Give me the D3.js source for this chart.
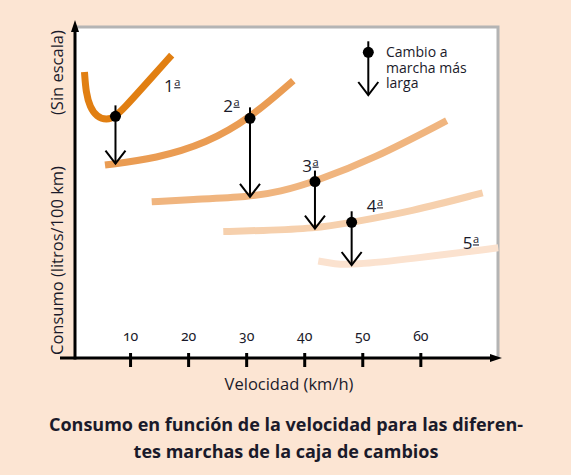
<!DOCTYPE html>
<html>
<head>
<meta charset="utf-8">
<script src="https://cdn.jsdelivr.net/npm/d3@7"></script>
<style>
    body { margin: 0; background: #fce5d3; }
    svg { display: block; }
    text { font-family: "Open Sans", sans-serif; fill: #1a1a2a; }
</style>
</head>
<body>
<div id="chart"></div>
<script>
// velocidad (km/h) y consumo relativo (sin escala, 0-100)
const marcha1 = [[2.15, 86.4], [2.41, 80.1], [3.1, 75.8], [4.25, 72.9], [5.98, 71.8], [7.49, 73.0], [9.13, 75.8], [11.71, 80.8], [17.17, 91.5]];
const marcha2 = [[5.68, 58.3], [14.59, 60.3], [23.2, 64.9], [30.66, 72.4], [38.12, 83.8]];
const marcha3 = [[13.73, 47.2], [20.32, 47.9], [30.66, 48.7], [35.83, 50.2], [41.85, 53.3], [51.84, 60.1], [64.54, 71.7]];
const marcha4 = [[26.06, 38.2], [32.38, 38.5], [41.85, 39.1], [48.17, 41.0], [58.22, 44.2], [70.74, 49.9]];
const marcha5 = [[42.42, 29.3], [45.3, 28.4], [48.17, 28.1], [58.22, 29.9], [73.42, 33.3]];

const marchas = [marcha1, marcha2, marcha3, marcha4, marcha5];
const marchaNumeros = ['1', '2', '3', '4', '5'];
const marchaColores = ['#e17f12', '#ea9c53', '#f0b57f', '#f6d0ad', '#fbe2cf'];
// donde va la etiqueta de cada marcha (velocidad, consumo)
const etiquetaV = [15.85, 26.06, 39.67, 50.76, 67.29];
const etiquetaC = [80.3, 74.4, 56.3, 44.0, 32.8];

// cambios de marcha: velocidad, consumo antes, consumo despues
const cambioV = [7.49, 30.66, 41.85, 48.17];
const cambioDesde = [73.0, 72.4, 53.3, 41.0];
const cambioHasta = [58.7, 48.7, 39.1, 28.1];

const ticksVelocidad = [10, 20, 30, 40, 50, 60];
const leyenda = ['Cambio a', 'marcha más', 'larga'];
const titulo = ['Consumo en función de la velocidad para las diferen-', 'tes marchas de la caja de cambios'];

const width = 571, height = 475;
const plot = { left: 75, right: 498, top: 27, bottom: 358 };

const svg = d3.select('#chart').append('svg')
    .attr('width', width)
    .attr('height', height);

const x = d3.scaleLinear().domain([0, 73.5]).range([72, 498.7]);
const y = d3.scaleLinear().domain([0, 100]).range([plot.bottom, plot.top]);

// zona blanca del grafico
svg.append('rect')
    .attr('x', plot.left).attr('y', plot.top)
    .attr('width', plot.right - plot.left).attr('height', plot.bottom - plot.top)
    .attr('fill', '#ffffff');

// borde gris arriba y a la derecha
svg.append('path')
    .attr('d', `M${plot.left},${plot.top}H${plot.right}V${plot.bottom}`)
    .attr('fill', 'none')
    .attr('stroke', '#b4b4b4')
    .attr('stroke-width', 3);

svg.append('clipPath').attr('id', 'clip')
    .append('rect')
    .attr('x', plot.left).attr('y', plot.top)
    .attr('width', plot.right - plot.left + 1).attr('height', plot.bottom - plot.top);

// curveBasis suaviza los puntos leidos a mano
const line = d3.line()
    .x(d => x(d[0]))
    .y(d => y(d[1]))
    .curve(d3.curveBasis);

// curvas de consumo (de la 5a a la 1a para que la 1a quede encima)
svg.append('g').attr('clip-path', 'url(#clip)')
    .selectAll('path')
    .data(marchas.map((d, i) => ({ puntos: d, i: i })).reverse())
    .enter()
    .append('path')
    .attr('d', d => line(d.puntos))
    .attr('fill', 'none')
    .attr('stroke', d => marchaColores[d.i])
    .attr('stroke-width', 7);

// etiquetas 1a, 2a... con la "a" volada y subrayada
const etiquetas = svg.append('g').selectAll('text')
    .data(marchaNumeros)
    .enter()
    .append('text')
    .attr('x', (d, i) => x(etiquetaV[i]))
    .attr('y', (d, i) => y(etiquetaC[i]))
    .style('font-size', '17px');
etiquetas.append('tspan').text(d => d);
etiquetas.append('tspan')
    .attr('dy', -6)
    .attr('dx', 0.5)
    .style('font-size', '11px')
    .style('text-decoration', 'underline')
    .text('a');

// flechas de cambio de marcha
function flecha(g, px, yDot, yTip) {
    g.append('line')
        .attr('x1', px).attr('x2', px)
        .attr('y1', yDot - 11).attr('y2', yTip)
        .attr('stroke', '#000').attr('stroke-width', 2);
    g.append('path')
        .attr('d', `M${px - 10},${yTip - 13}L${px},${yTip}L${px + 10},${yTip - 13}`)
        .attr('fill', 'none').attr('stroke', '#000').attr('stroke-width', 2);
    g.append('circle')
        .attr('cx', px).attr('cy', yDot).attr('r', 5.5)
        .attr('fill', '#000');
}

const flechas = svg.append('g');
cambioV.forEach((v, i) => {
    flecha(flechas, x(v), y(cambioDesde[i]), y(cambioHasta[i]));
});

// leyenda, una linea de texto por renglon
const leg = svg.append('g');
flecha(leg, 368.3, 52.3, 95);
leg.selectAll('text')
    .data(leyenda)
    .enter()
    .append('text')
    .attr('x', 386)
    .attr('y', (d, i) => 57 + i * 15.5)
    .style('font-size', '14px')
    .text(d => d);

// ejes
const xAxis = d3.axisBottom(x)
    .tickValues(ticksVelocidad)
    .tickSize(0)
    .tickFormat(d3.format('d'));

const gx = svg.append('g')
    .attr('transform', `translate(0,${plot.bottom})`)
    .call(xAxis);
gx.select('.domain').remove();
gx.selectAll('.tick text')
    .attr('y', -17)
    .attr('dy', 0)
    .style('font-family', '"Noto Sans", sans-serif')
    .style('font-feature-settings', '"onum" 1')
    .style('font-size', '14px')
    .attr('fill', '#1a1a2a');
gx.selectAll('.tick line')
    .attr('y1', -5).attr('y2', 9)
    .attr('stroke', '#000').attr('stroke-width', 3);

// linea del eje x con punta
svg.append('line')
    .attr('x1', 60).attr('x2', 492)
    .attr('y1', plot.bottom).attr('y2', plot.bottom)
    .attr('stroke', '#000').attr('stroke-width', 3);
svg.append('path')
    .attr('d', `M490,${plot.bottom - 4}L502,${plot.bottom}L490,${plot.bottom + 4}Z`)
    .attr('fill', '#000');

// eje y con punta
svg.append('line')
    .attr('x1', plot.left).attr('x2', plot.left)
    .attr('y1', plot.bottom + 1.5).attr('y2', 30)
    .attr('stroke', '#000').attr('stroke-width', 3);
svg.append('path')
    .attr('d', `M${plot.left - 4},32L${plot.left},20L${plot.left + 4},32Z`)
    .attr('fill', '#000');

// textos de los ejes
svg.append('text')
    .attr('x', 289).attr('y', 390)
    .attr('text-anchor', 'middle')
    .style('font-size', '16.5px')
    .text('Velocidad (km/h)');

svg.append('text')
    .attr('transform', 'translate(63,355) rotate(-90)')
    .style('font-size', '16.5px')
    .text('Consumo (litros/100 km)');
svg.append('text')
    .attr('transform', 'translate(63,115) rotate(-90)')
    .style('font-size', '16.5px')
    .text('(Sin escala)');

// titulo
svg.append('g').selectAll('text')
    .data(titulo)
    .enter()
    .append('text')
    .attr('x', 286)
    .attr('y', (d, i) => 431 + i * 27)
    .attr('text-anchor', 'middle')
    .style('font-size', '18px')
    .style('font-weight', 'bold')
    .text(d => d);
</script>
</body>
</html>
